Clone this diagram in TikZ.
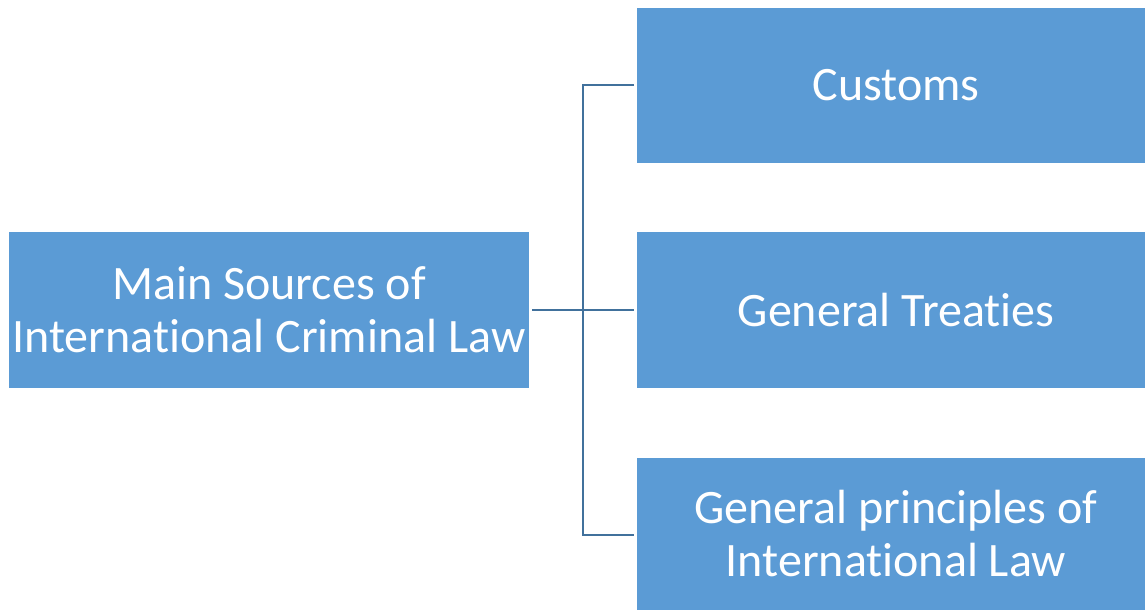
\documentclass[tikz,border=0pt]{standalone}
\usepackage{fontspec}
\setmainfont[RawFeature={-liga;-clig;-calt;-dlig}]{Carlito}
\definecolor{boxblue}{HTML}{5B9BD5}
\definecolor{lineblue}{HTML}{41719C}
\newcommand{\nolig}{\kern0pt }
\tikzset{
  box/.style={fill=boxblue, draw=none, text=white, align=center, inner sep=0pt,
    font=\fontsize{48}{53}\selectfont},
  conn/.style={draw=lineblue, line width=2.4pt}
}
\begin{document}
\begin{tikzpicture}[x=1pt,y=-1pt]
\useasboundingbox (0,0) rectangle (1145,610);
\fill[boxblue] (9,232) rectangle (529,388);
\node[box] (main) at (269,310) {Main Sources of\\Internat\nolig ional Criminal Law};
\fill[boxblue] (637,8) rectangle (1145,163);
\node[box] (c) at (896,85.5) {Customs};
\fill[boxblue] (637,232) rectangle (1145,388);
\node[box] (t) at (896,310) {General Treat\nolig ies};
\fill[boxblue] (637,458) rectangle (1145,610);
\node[box] (p) at (896,534) {General principles of\\Internat\nolig ional Law};
\coordinate (ms) at (532,310);
\coordinate (jt) at (583,85);
\coordinate (jb) at (583,535);
\coordinate (ce) at (634,85);
\coordinate (te) at (634,310);
\coordinate (pe) at (634,535);
\draw[conn] (ms) -- (te);
\draw[conn] (ce) -- (jt) -- (jb) -- (pe);
\end{tikzpicture}
\end{document}
